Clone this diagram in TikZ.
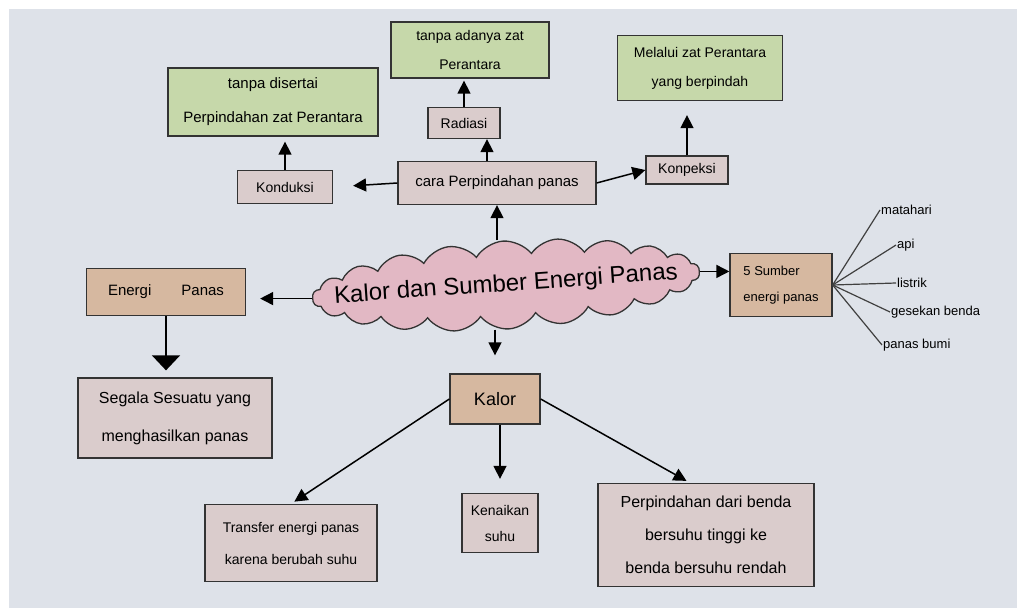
\documentclass[tikz,border=0pt]{standalone}
\usepackage{fontspec}
\setmainfont{Liberation Sans}
\usetikzlibrary{arrows.meta,shapes.symbols}
\definecolor{paper}{RGB}{222,226,233}
\definecolor{leaf}{RGB}{198,216,170}
\definecolor{tan}{RGB}{214,184,160}
\definecolor{rose}{RGB}{218,204,204}
\definecolor{blush}{RGB}{226,184,196}
\tikzset{
  box/.style    = {rectangle, draw=black!80, line width=1.3pt, fill=rose, align=center,
                   inner sep=4pt, font=\fontsize{14}{32}\selectfont},
  warm/.style   = {box, fill=tan},
  leafbox/.style= {box, fill=leaf},
  src/.style    = {anchor=west, inner sep=1pt, font=\fontsize{13}{15}\selectfont},
  fl/.style     = {-{Triangle[length=13pt,width=13pt]}, line width=1.5pt},
  bigfl/.style  = {-{Triangle[length=15pt,width=28pt]}, line width=1.5pt},
  twig/.style   = {line width=1.2pt, draw=black!75},
}

\begin{document}
\begin{tikzpicture}[x=1pt,y=-1pt]
    \useasboundingbox (0,0) rectangle (1017,608);
    \fill[white] (0,0) rectangle (1017,608);
    \fill[paper] (9,9) rectangle (1017,608);
    % inti
    \node[cloud, cloud puffs=22, cloud puff arc=110, aspect=4.4, draw=black!80, line width=1.3pt,
          fill=blush, minimum width=388pt, minimum height=88pt, inner sep=0pt, rotate=4,
          label={[rotate=4, font=\fontsize{24}{26}\selectfont]center:Kalor dan Sumber Energi Panas}]
          (core) at (506,285) {};
    % cara perpindahan
    \node[box, minimum width=198pt, minimum height=43pt, font=\fontsize{15}{17}\selectfont] (cara) at (497,183) {cara Perpindahan panas};
    \node[box, minimum width=95pt, minimum height=33pt]  (kond) at (285,187) {Konduksi};
    \node[box, minimum width=72pt, minimum height=31pt]  (rad)  at (464,123) {Radiasi};
    \node[box, minimum width=82pt, minimum height=28pt]  (konv) at (687,170) {Konpeksi};
    \node[leafbox, minimum width=210pt, minimum height=68pt, font=\fontsize{15}{34}\selectfont] (lk) at (273,102) {tanpa disertai\\Perpindahan zat Perantara};
    \node[leafbox, minimum width=158pt, minimum height=56pt, font=\fontsize{14}{29}\selectfont] (lm) at (470,50) {tanpa adanya zat\\Perantara};
    \node[leafbox, minimum width=165pt, minimum height=65pt, font=\fontsize{14}{29}\selectfont] (lr) at (700,68) {Melalui zat Perantara\\yang berpindah};
    \draw[fl, shorten >=20pt] (cara.west) -- (kond.east);
    \draw[fl] ([xshift=-10pt]cara.north) -- ([xshift=-10pt]cara.north |- rad.south);
    \draw[fl] (cara.east) -- (konv.west);
    \draw[fl, shorten >=5pt] (kond.north) -- (kond.north |- lk.south);
    \draw[fl, shorten >=2pt] (rad.north) -- (rad.north |- lm.south);
    \draw[fl, shorten >=14pt] (konv.north) -- (konv.north |- lr.south);
    % energi panas
    \node[warm, minimum width=159pt, minimum height=47pt, font=\fontsize{15}{17}\selectfont] (ep) at (166,292) {Energi\qquad Panas};
    \node[box, minimum width=194pt, minimum height=80pt, font=\fontsize{16}{38}\selectfont] (seg) at (175,418) {Segala Sesuatu yang\\menghasilkan panas};
    \draw[bigfl, shorten >=7pt] (ep.south) -- (ep.south |- seg.north);
    % sumber
    \node[warm, minimum width=102pt, minimum height=63pt, align=left, font=\fontsize{13}{26}\selectfont] (lima) at (781,285) {5 Sumber\\energi panas};
    \node[src] (s1) at (880,210) {matahari};
    \node[src] (s2) at (896,245) {api};
    \node[src] (s3) at (896,283) {listrik};
    \node[src] (s4) at (890,312) {gesekan benda};
    \node[src] (s5) at (882,345) {panas bumi};
    \foreach \s in {s1,s2,s3,s4,s5}
      \draw[twig] (lima.east) -- (\s.west);
    % kalor
    \node[warm, minimum width=90pt, minimum height=50pt, font=\fontsize{18}{20}\selectfont] (kal) at (495,399) {Kalor};
    \node[box, minimum width=172pt, minimum height=77pt] (tr) at (291,543) {Transfer energi panas\\karena berubah suhu};
    \node[box, minimum width=76pt, minimum height=59pt, font=\fontsize{14}{26}\selectfont] (ken) at (500,523) {Kenaikan\\suhu};
    \node[box, minimum width=216pt, minimum height=103pt, font=\fontsize{16}{33}\selectfont] (pd) at (706,535) {Perpindahan dari benda\\bersuhu tinggi ke\\benda bersuhu rendah};
    \draw[fl, shorten >=4pt] (kal.west) -- (tr.north);
    \draw[fl, shorten >=14pt] (ken.north |- kal.south) -- (ken.north);
    \draw[fl, shorten >=4pt] (kal.east) -- ([xshift=-16pt]pd.north);
    % dari inti
    \draw[fl] (cara.south |- core.north) -- (cara.south);
    \draw[fl, shorten >=14pt] (core.west) -- (core.west -| ep.east);
    \draw[fl] (core.east) -- (core.east -| lima.west);
    \draw[fl, shorten >=18pt] (kal.north |- core.south) -- (kal.north);
\end{tikzpicture}
\end{document}
